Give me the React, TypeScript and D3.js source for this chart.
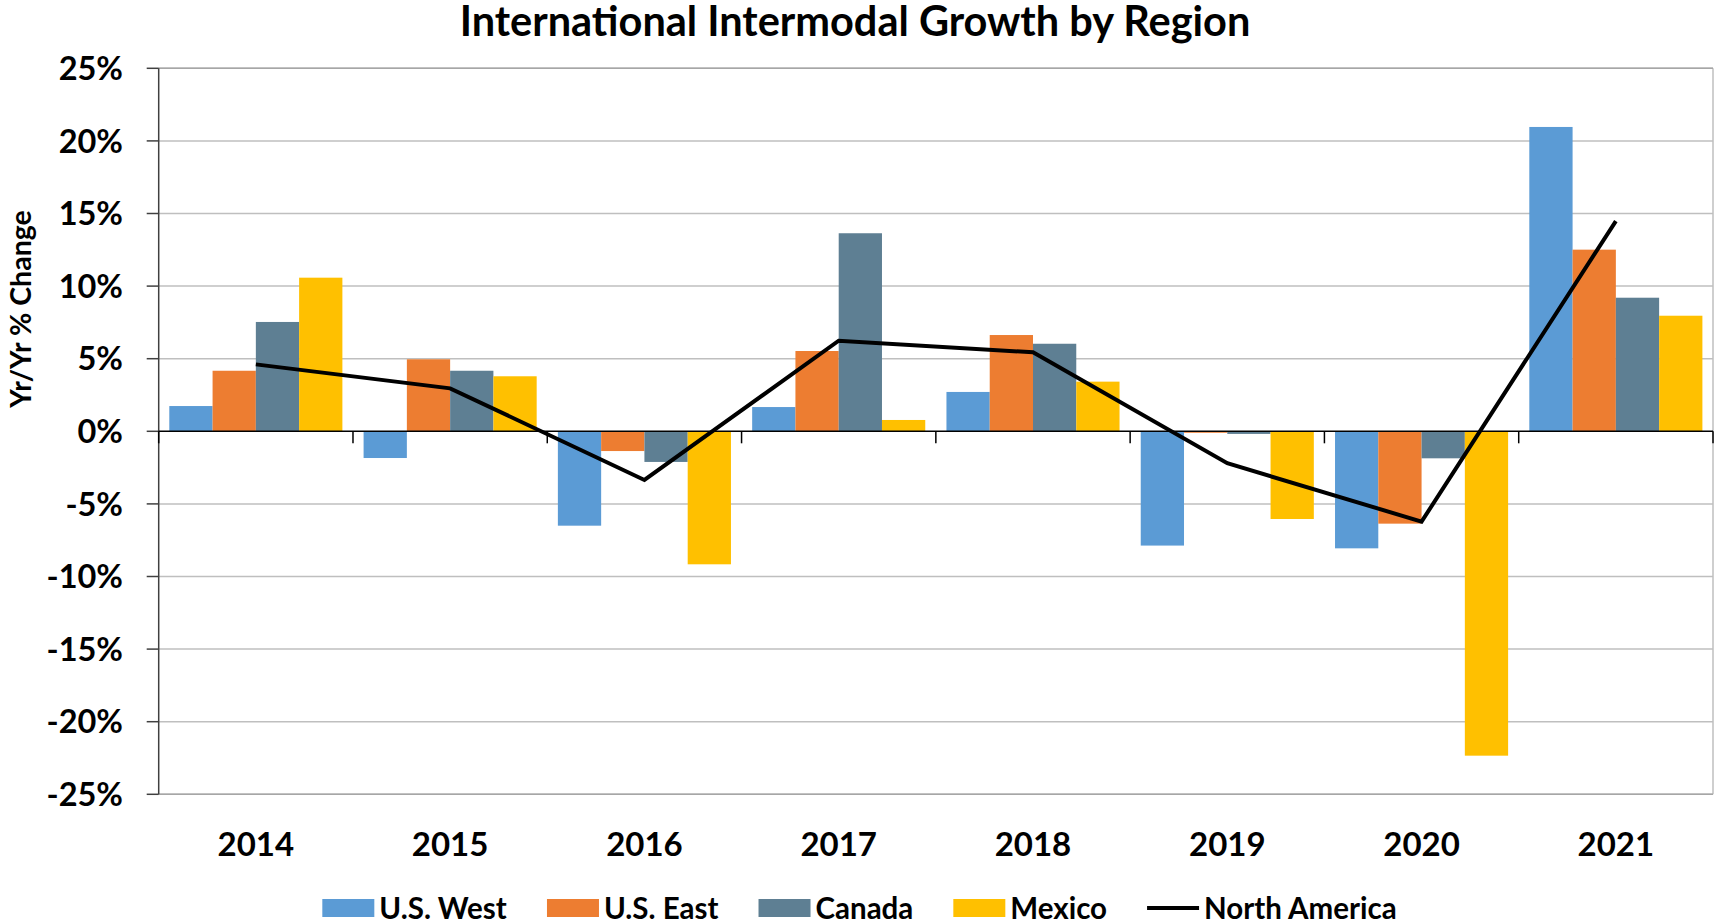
import React from 'react';
import * as d3 from 'd3';

const years = ['2014', '2015', '2016', '2017', '2018', '2019', '2020', '2021'];
const seriesNames = ['U.S. West', 'U.S. East', 'Canada', 'Mexico'];
const usWest = [1.74, -1.84, -6.5, 1.67, 2.71, -7.87, -8.06, 20.96];
const usEast = [4.17, 4.96, -1.36, 5.53, 6.63, -0.1, -6.36, 12.51];
const canada = [7.53, 4.17, -2.11, 13.64, 6.03, -0.18, -1.86, 9.2];
const mexico = [10.58, 3.79, -9.16, 0.78, 3.42, -6.04, -22.34, 7.96];
const northAmerica = [4.61, 2.96, -3.35, 6.24, 5.44, -2.2, -6.22, 14.48];
const lineName = 'North America';
const yTicks = [-25, -20, -15, -10, -5, 0, 5, 10, 15, 20, 25];
const colors = ['#5B9BD5', '#ED7D31', '#5E7F93', '#FFC000'];

const W = 1716;
const H = 924;
const FONT = 'Lato, "Open Sans", sans-serif';

function measure(text: string, font: string): number {
  const c = document.createElement('canvas');
  const ctx = c.getContext('2d');
  if (!ctx) return text.length * 16;
  ctx.font = font;
  return ctx.measureText(text).width;
}

export default function App() {
  const left = 158.7;
  const right = 1713;
  const top = 68.3;
  const bottom = 794.3;

  const x = d3.scaleBand<string>().domain(years).range([left, right]).padding(0);
  const inner = d3
    .scaleBand<string>()
    .domain(seriesNames)
    .range([0, x.bandwidth()])
    .paddingInner(0)
    .paddingOuter(0.245);
  const y = d3.scaleLinear().domain([-25, 25]).range([bottom, top]);

  const allSeries = [usWest, usEast, canada, mexico];

  const line = d3
    .line<number>()
    .x((_, i) => (x(years[i]) as number) + x.bandwidth() / 2)
    .y((d) => y(d));

  // legend layout
  const legendFontSize = 29.5;
  const legendFont = `bold ${legendFontSize}px Lato`;
  const swW = 52;
  const swGap = 5;
  const itemGap = 40;
  const items = [...seriesNames, lineName].map((name) => ({
    name,
    w: measure(name, legendFont),
  }));
  const totalW = items.reduce((s, it) => s + swW + swGap + it.w, 0) + itemGap * (items.length - 1);
  let cursor = 860 - totalW / 2;
  const legendItems = items.map((it, i) => {
    const start = cursor;
    cursor += swW + swGap + it.w + itemGap;
    return { ...it, start, idx: i };
  });
  const legendY = 908;

  return (
    <svg
      width={W}
      height={H}
      style={{ position: 'absolute', left: 0, top: 0, background: '#fff' }}
      fontFamily={FONT}
    >
      <rect x={0} y={0} width={W} height={H} fill="#fff" />
      {/* title */}
      <text x={855} y={36} textAnchor="middle" fontSize={41.5} fontWeight="bold" fill="#000">
        International Intermodal Growth by Region
      </text>

      {/* gridlines */}
      {yTicks.map((t) => (
        <line
          key={'g' + t}
          x1={left}
          x2={right}
          y1={y(t)}
          y2={y(t)}
          stroke={t === 0 ? 'none' : '#BFBFBF'}
          strokeWidth={1.5}
        />
      ))}
      {/* plot border */}
      <line x1={right} x2={right} y1={top} y2={bottom} stroke="#BFBFBF" strokeWidth={1.5} />
      <line x1={left} x2={right} y1={top} y2={top} stroke="#A6A6A6" strokeWidth={1.5} />
      <line x1={left} x2={right} y1={bottom} y2={bottom} stroke="#A6A6A6" strokeWidth={1.5} />

      {/* bars */}
      {allSeries.map((vals, si) =>
        vals.map((v, i) => {
          const bx = (x(years[i]) as number) + (inner(seriesNames[si]) as number);
          const y0 = y(0);
          const y1 = y(v);
          return (
            <rect
              key={`b${si}-${i}`}
              x={bx}
              y={Math.min(y0, y1)}
              width={inner.bandwidth()}
              height={Math.abs(y1 - y0)}
              fill={colors[si]}
            />
          );
        })
      )}

      {/* y axis */}
      <line x1={left} x2={left} y1={top} y2={bottom} stroke="#404040" strokeWidth={1.5} />
      {yTicks.map((t) => (
        <g key={'t' + t}>
          <line x1={left - 12} x2={left} y1={y(t)} y2={y(t)} stroke="#404040" strokeWidth={1.5} />
          <text
            x={123}
            y={y(t)}
            dy="0.36em"
            textAnchor="end"
            fontSize={32.5}
            fontWeight="bold"
            fill="#000"
          >
            {`${t}%`}
          </text>
        </g>
      ))}

      {/* zero axis */}
      <line x1={left} x2={right} y1={y(0)} y2={y(0)} stroke="#000" strokeWidth={1.5} />
      {[...years.map((yr) => x(yr) as number), right].map((bx, i) => (
        <line key={'ct' + i} x1={bx} x2={bx} y1={y(0)} y2={y(0) + 12} stroke="#000" strokeWidth={1.5} />
      ))}

      {/* line */}
      <path d={line(northAmerica) || ''} fill="none" stroke="#000" strokeWidth={4} strokeLinejoin="miter" />

      {/* category labels */}
      {years.map((yr) => (
        <text
          key={'c' + yr}
          x={(x(yr) as number) + x.bandwidth() / 2}
          y={856}
          textAnchor="middle"
          fontSize={33}
          fontWeight="bold"
          fill="#000"
        >
          {yr}
        </text>
      ))}

      {/* y axis title */}
      <text
        transform="translate(31,309) rotate(-90)"
        textAnchor="middle"
        fontSize={28.5}
        fontWeight="bold"
        fill="#000"
      >
        Yr/Yr % Change
      </text>

      {/* legend */}
      {legendItems.map((it) => (
        <g key={'l' + it.name}>
          {it.idx < 4 ? (
            <rect x={it.start} y={legendY - 9} width={swW} height={18} fill={colors[it.idx]} />
          ) : (
            <line x1={it.start} x2={it.start + swW} y1={legendY} y2={legendY} stroke="#000" strokeWidth={4} />
          )}
          <text
            x={it.start + swW + swGap}
            y={legendY}
            dy="0.36em"
            fontSize={legendFontSize}
            fontWeight="bold"
            fill="#000"
          >
            {it.name}
          </text>
        </g>
      ))}
    </svg>
  );
}
